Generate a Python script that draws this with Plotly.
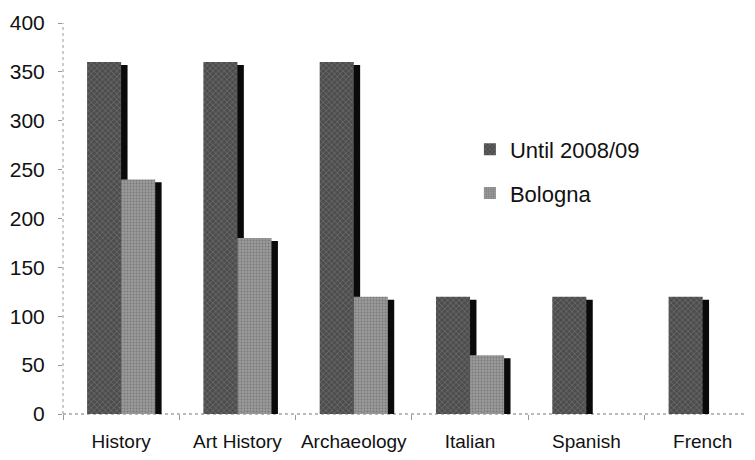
import plotly.graph_objects as go

categories = ["History", "Art History", "Archaeology", "Italian", "Spanish", "French"]
until_2008 = [360, 360, 360, 120, 120, 120]
bologna = [240, 180, 120, 60, 0, 0]
y_ticks = [0, 50, 100, 150, 200, 250, 300, 350, 400]

W = 0.293          # bar width (category units)
SH_DX = 0.055      # shadow shift right
SH_DY = 3          # shadow shift down (data units)

fig = go.Figure()

def add_series(name, vals, off, bg, fg, shape, size, sol):
    # shadow
    fig.add_trace(go.Bar(
        x=categories, y=[v if v > 0 else 0 for v in vals], base=-SH_DY,
        offset=off + SH_DX, width=W,
        marker=dict(color="#0a0a0a", line=dict(width=0)),
        showlegend=False, hoverinfo="skip", legendgroup=name))
    fig.add_trace(go.Bar(
        x=categories, y=vals, name=name, offset=off, width=W,
        marker=dict(color=bg, line=dict(width=0),
                    pattern=dict(shape=shape, fgcolor=fg, bgcolor=bg,
                                 size=size, solidity=sol, fillmode="overlay")),
        legendgroup=name))

add_series("Until 2008/09", until_2008, -W, "#4d4d4d", "#8c8c8c", "x", 4, 0.35)
add_series("Bologna", bologna, 0.0, "#9a9a9a", "#5a5a5a", ".", 3, 0.35)

# the page body has an 8px default margin, so the figure is sized to fit
fig.update_layout(
    width=747, height=452,
    margin=dict(l=55, r=0, t=15, b=46, autoexpand=False),
    paper_bgcolor="white", plot_bgcolor="white",
    barmode="overlay",
    font=dict(family="Liberation Sans, Arial, sans-serif", size=21, color="#111"),
    showlegend=True,
    legend=dict(x=0.588, y=0.73, xanchor="left", yanchor="top",
                bgcolor="rgba(0,0,0,0)", font=dict(size=22),
                tracegroupgap=12, itemsizing="constant", itemwidth=30),
    shapes=[
        dict(type="line", xref="paper", yref="paper", x0=0, x1=1, y0=0, y1=0,
             line=dict(color="#777", width=1, dash="dot"), layer="below"),
        dict(type="line", xref="paper", yref="paper", x0=0, x1=0, y0=0, y1=1,
             line=dict(color="#999", width=1, dash="dot"), layer="below"),
    ],
)
fig.update_xaxes(
    type="category", range=[-0.5, 5.45], showgrid=False, showline=False,
    ticks="outside", ticklen=5, tickcolor="#999", tickson="boundaries",
    tickfont=dict(size=19), zeroline=False, ticklabelstandoff=14,
    tickangle=0, automargin=False,
)
fig.update_yaxes(
    range=[0, 400], tickvals=y_ticks, showgrid=False, showline=False,
    ticks="outside", ticklen=4, tickcolor="#999", zeroline=False,
    tickfont=dict(size=21), ticklabelstandoff=9, automargin=False,
)

fig.write_html("out.html")
